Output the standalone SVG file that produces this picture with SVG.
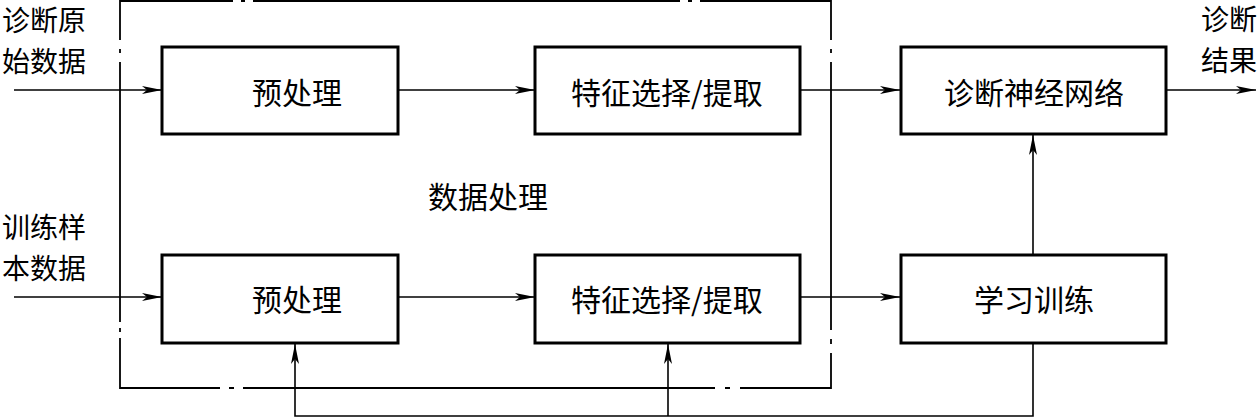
<svg xmlns="http://www.w3.org/2000/svg" width="1260" height="419" viewBox="0 0 1260 419">
<defs>
<marker id="ah" markerWidth="22" markerHeight="10" refX="20" refY="5" orient="auto" markerUnits="userSpaceOnUse">
<path d="M0,1 L20,5 L0,9 L5,5 Z" fill="#000"/>
</marker>
<style>
.box{fill:#fff;stroke:#000;stroke-width:3}
.ln{fill:none;stroke:#000;stroke-width:1.6}
.frame{fill:none;stroke:#000;stroke-width:1.8}
.t{font-family:"Noto Sans CJK SC","Liberation Serif",serif;font-size:30px;fill:#000;dominant-baseline:central}
.s{font-size:28px}
</style>
</defs>
<rect width="1260" height="419" fill="#fff"/>
<g id="frame">
<path class="frame" d="M233,1 L120,1 L120,40 M120,62 L120,322 M120,338 L120,388 L220,388 M243,388 L715,388 M740,388 L831,388 L831,353 M831,330 L831,62 M831,40 L831,1 L700,1 M680,1 L253,1"/>
<path class="frame" d="M241,1 L245,1 M120,49 L120,53 M120,328 L120,332 M229,388 L234,388 M725,388 L730,388 M831,339 L831,344 M831,49 L831,53 M688,1 L692,1"/>
</g>
<g id="connectors">
<path class="ln" d="M14,90 L162,90" marker-end="url(#ah)"/>
<path class="ln" d="M14,297 L162,297" marker-end="url(#ah)"/>
<path class="ln" d="M398,90 L535,90" marker-end="url(#ah)"/>
<path class="ln" d="M398,297 L535,297" marker-end="url(#ah)"/>
<path class="ln" d="M800,90 L900,90" marker-end="url(#ah)"/>
<path class="ln" d="M800,297 L900,297" marker-end="url(#ah)"/>
<path class="ln" d="M1166,90 L1256,90" marker-end="url(#ah)"/>
<path class="ln" d="M1033,254 L1033,135" marker-end="url(#ah)"/>
<path class="ln" d="M1033,343 L1033,416 L295,416 L295,344" marker-end="url(#ah)"/>
<path class="ln" d="M668,416 L668,344" marker-end="url(#ah)"/>
</g>
<g id="pre1"><rect class="box" x="162" y="47" width="236" height="87"/><text class="t" x="297" y="91" text-anchor="middle">预处理</text></g>
<g id="feat1"><rect class="box" x="535" y="47" width="265" height="87"/><text class="t" x="667" y="91" text-anchor="middle">特征选择/提取</text></g>
<g id="nn"><rect class="box" x="901" y="47" width="265" height="87"/><text class="t" x="1034" y="91" text-anchor="middle">诊断神经网络</text></g>
<g id="pre2"><rect class="box" x="162" y="255" width="236" height="88"/><text class="t" x="297" y="298" text-anchor="middle">预处理</text></g>
<g id="feat2"><rect class="box" x="535" y="255" width="265" height="88"/><text class="t" x="667" y="298" text-anchor="middle">特征选择/提取</text></g>
<g id="train"><rect class="box" x="901" y="255" width="265" height="88"/><text class="t" x="1034" y="298" text-anchor="middle">学习训练</text></g>
<g id="labels">
<text class="t s" x="2" y="19">诊断原</text>
<text class="t s" x="2" y="60">始数据</text>
<text class="t s" x="2" y="226">训练样</text>
<text class="t s" x="2" y="267">本数据</text>
<text class="t s" x="1201" y="18">诊断</text>
<text class="t s" x="1201" y="59">结果</text>
<text class="t" x="488" y="195" text-anchor="middle">数据处理</text>
</g>
</svg>
